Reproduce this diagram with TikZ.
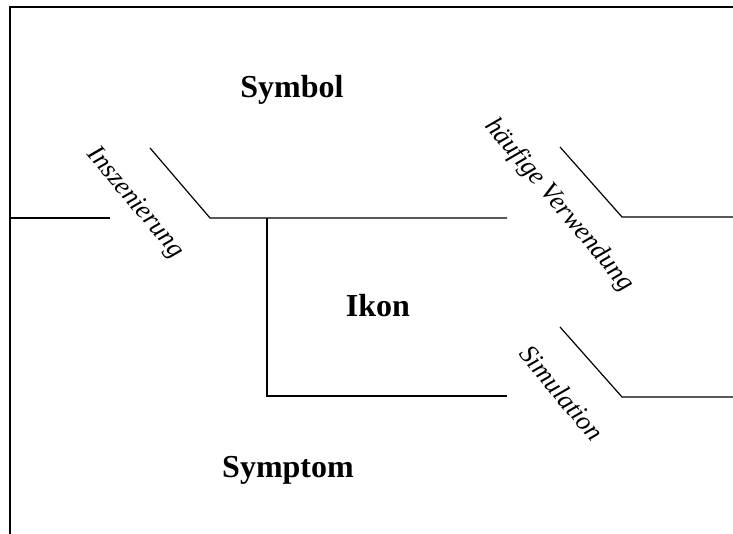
\documentclass[tikz,border=0pt]{standalone}
\usepackage{fontspec}
\setmainfont{Liberation Serif}
\begin{document}
\begin{tikzpicture}[x=1pt,y=-1pt,
  frameline/.style={line width=1.6pt},
  bar/.style={line width=1.2pt},
  sign/.style={font=\fontsize{32}{38}\selectfont\bfseries, inner sep=0pt},
  tag/.style={font=\fontsize{26.5}{30}\selectfont\itshape, inner sep=0pt, rotate=-50}
]
\useasboundingbox (0,0) rectangle (733,534);

% outer frame: top and left edges only
\coordinate (tl) at (10,7);
\coordinate (tr) at (733,7);
\coordinate (bl) at (10,534);
\draw[frameline] (tr) -- (tl) -- (bl);

% key points of the switch lines
\coordinate (a0) at (10,218);
\coordinate (a1) at (110,218);
\coordinate (b0) at (150,148);
\coordinate (b1) at (210,218);
\coordinate (c0) at (267,218);
\coordinate (b2) at (507,218);
\coordinate (c1) at (267,396);
\coordinate (c2) at (507,396);
\coordinate (d0) at (560,147);
\coordinate (d1) at (622,217);
\coordinate (d2) at (733,217);
\coordinate (e0) at (560,327);
\coordinate (e1) at (622,397);
\coordinate (e2) at (733,397);

\draw[bar] (a0) -- (a1);
\draw[bar] (b0) -- (b1) -- (b2);
\draw[bar] (c0) -- (c1) -- (c2);
\draw[bar] (d0) -- (d1) -- (d2);
\draw[bar] (e0) -- (e1) -- (e2);

% region labels
\node[sign] (symbol) at (292,90) {Symbol};
\node[sign] (ikon) at (378,306) {Ikon};
\node[sign] (symptom) at (288,470) {Symptom};

% switch labels
\node[tag] (insz) at (135,203) {Inszenierung};
\node[tag] (haeuf) at (559,205) {häufige Verwendung};
\node[tag] (simul) at (562,393) {Simulation};
\end{tikzpicture}
\end{document}
